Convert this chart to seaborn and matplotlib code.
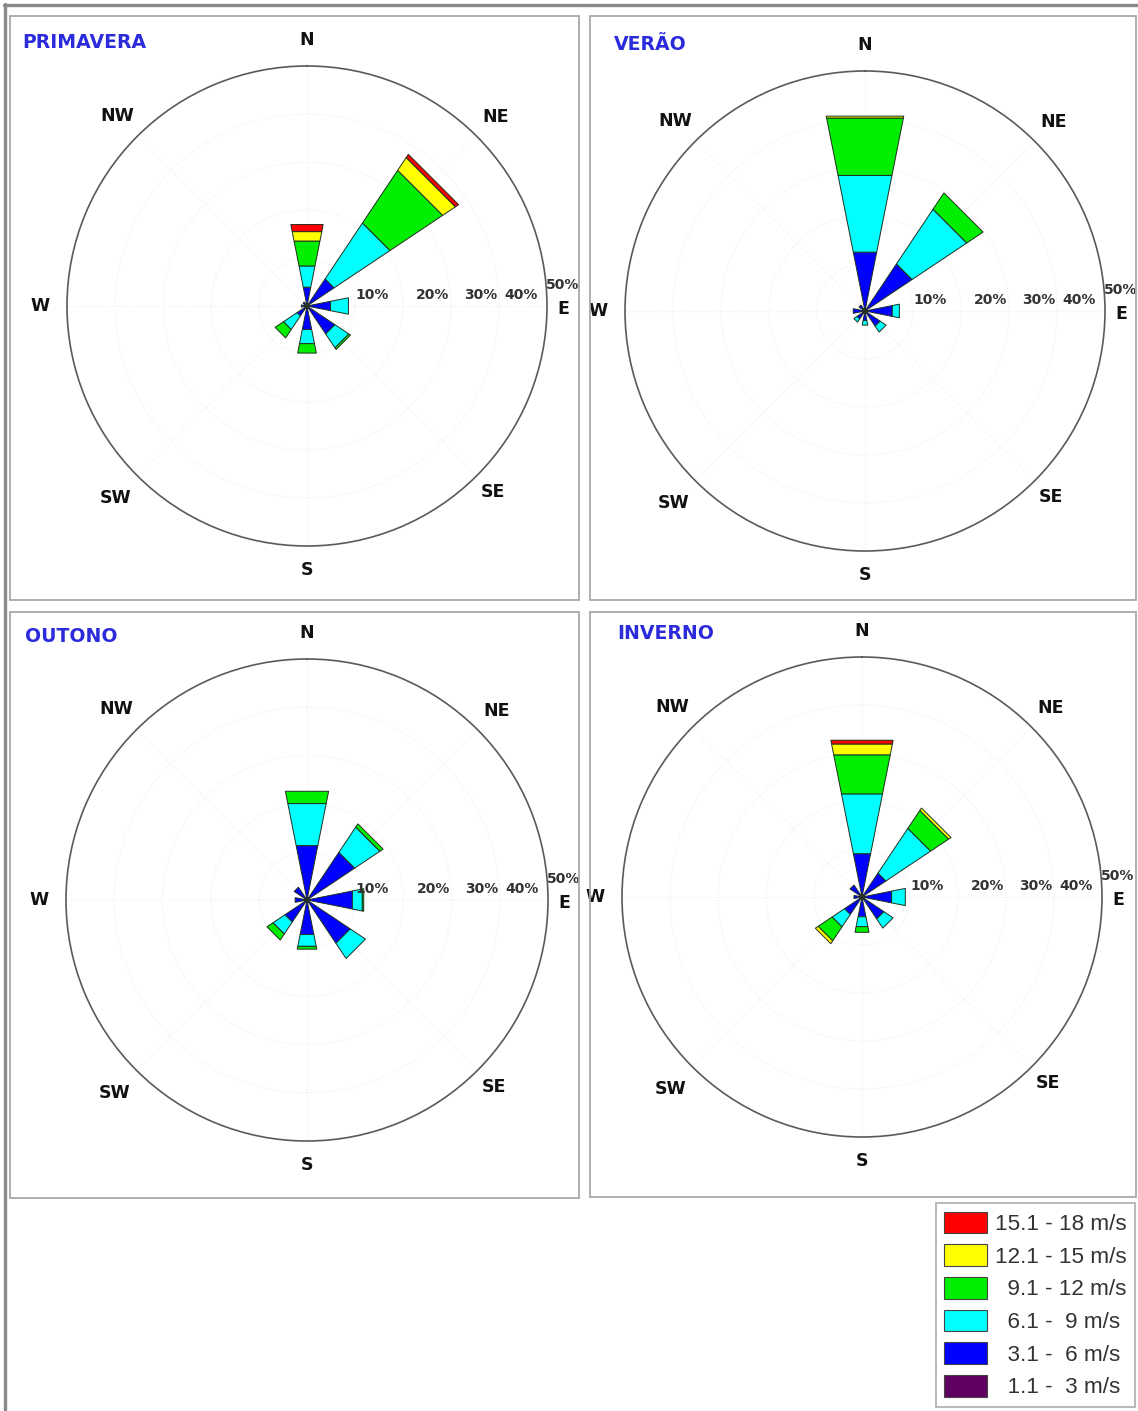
import numpy as np
import matplotlib
matplotlib.use("Agg")
import matplotlib.pyplot as plt
import seaborn as sns
from matplotlib.patches import Rectangle, Patch
from matplotlib.lines import Line2D

# direction sectors and speed classes
directions = ["N", "NE", "E", "SE", "S", "SW", "W", "NW"]
speed_classes = ["  1.1 -  3 m/s", "  3.1 -  6 m/s", "  6.1 -  9 m/s",
                 "  9.1 - 12 m/s", "12.1 - 15 m/s", "15.1 - 18 m/s"]
class_colors = ["#600060", "#0000ff", "#00ffff", "#00ee00", "#ffff00", "#ff0000"]

# frequency (%) per speed class (rows) and direction (columns)
primavera = [
    [0.6, 0.6, 0.6, 0.6, 0.6, 0.6, 0.6, 0.6],
    [3.4, 6.2, 4.4, 6.4, 4.4, 1.9, 0.6, 0.4],
    [4.5, 14.0, 3.8, 3.5, 3.0, 3.4, 0.0, 0.0],
    [5.3, 13.2, 0.0, 0.4, 2.0, 2.1, 0.0, 0.0],
    [2.0, 3.2, 0.0, 0.0, 0.0, 0.0, 0.0, 0.0],
    [1.5, 0.8, 0.0, 0.0, 0.0, 0.0, 0.0, 0.0],
]
verao = [
    [0.6, 0.6, 0.6, 0.6, 0.6, 0.6, 0.6, 0.6],
    [11.9, 11.2, 5.2, 3.2, 1.4, 1.4, 1.9, 0.9],
    [16.3, 13.7, 1.5, 1.5, 1.0, 0.8, 0.0, 0.0],
    [12.2, 4.1, 0.0, 0.0, 0.0, 0.0, 0.0, 0.0],
    [0.4, 0.0, 0.0, 0.0, 0.0, 0.0, 0.0, 0.0],
    [0.0, 0.0, 0.0, 0.0, 0.0, 0.0, 0.0, 0.0],
]
outono = [
    [0.6, 0.6, 0.6, 0.6, 0.6, 0.6, 0.6, 0.6],
    [10.9, 11.3, 9.0, 10.2, 6.7, 4.9, 1.9, 2.6],
    [8.9, 6.3, 2.1, 3.8, 2.5, 3.0, 0.0, 0.0],
    [2.6, 0.8, 0.3, 0.0, 0.6, 1.5, 0.0, 0.0],
    [0.0, 0.0, 0.0, 0.0, 0.0, 0.0, 0.0, 0.0],
    [0.0, 0.0, 0.0, 0.0, 0.0, 0.0, 0.0, 0.0],
]
inverno = [
    [0.6, 0.6, 0.6, 0.6, 0.6, 0.6, 0.6, 0.6],
    [8.6, 5.4, 5.7, 4.9, 3.6, 3.8, 1.1, 2.4],
    [12.7, 11.2, 2.9, 2.3, 2.1, 3.1, 0.0, 0.0],
    [8.3, 4.5, 0.0, 0.0, 1.2, 3.5, 0.0, 0.0],
    [2.3, 0.6, 0.0, 0.0, 0.0, 0.7, 0.0, 0.0],
    [0.8, 0.0, 0.0, 0.0, 0.0, 0.0, 0.0, 0.0],
]
season_names = ["PRIMAVERA", "VERÃO", "OUTONO", "INVERNO"]
ring_labels = ["10%", "20%", "30%", "40%", "50%"]

sns.set_theme(style="white")
plt.rcParams["font.family"] = ["DejaVu Sans"]

W, H = 1138, 1411
fig = plt.figure(figsize=(W / 100, H / 100), dpi=100)
fig.patch.set_facecolor("white")

# layout in pixels: panel box, circle centre, circle radius, title position
layout = [
    ((10, 16, 579, 600), (307, 306), 240, (22, 42)),
    ((590, 16, 1136, 600), (865, 311), 240, (614, 45)),
    ((10, 612, 579, 1198), (307, 900), 241, (25, 636)),
    ((590, 612, 1136, 1197), (862, 897), 240, (617, 634)),
]
seasons = [primavera, verao, outono, inverno]

# outer frame (top and left)
fig.add_artist(Line2D([4 / W, 1], [1 - 5 / H, 1 - 5 / H], transform=fig.transFigure,
                      color="#8a8a8a", lw=2.4))
fig.add_artist(Line2D([5 / W, 5 / W], [0, 1 - 4 / H], transform=fig.transFigure,
                      color="#8a8a8a", lw=2.4))

theta = np.deg2rad(np.arange(0, 360, 45))
half = np.deg2rad(22.5) / 2
label_r = {"N": 55.4, "NE": 55.6, "E": 53.3, "SE": 54.8, "S": 55.0,
           "SW": 56.5, "W": 55.6, "NW": 56.0}

for name, data, (box, (cx, cy), rad, (tx, ty)) in zip(season_names, seasons, layout):
    x0, y0, x1, y1 = box
    fig.add_artist(Rectangle((x0 / W, 1 - y1 / H), (x1 - x0) / W, (y1 - y0) / H,
                             transform=fig.transFigure, fill=False,
                             edgecolor="#a8a8a8", lw=1.3))
    fig.text(tx / W, 1 - ty / H, name, color="#2b2bdc", fontsize=13.6,
             fontweight="bold", ha="left", va="center")

    ax = fig.add_axes([(cx - rad) / W, 1 - (cy + rad) / H, 2 * rad / W, 2 * rad / H],
                      projection="polar")
    ax.set_facecolor("white")
    ax.set_theta_zero_location("N")
    ax.set_theta_direction(-1)
    ax.set_ylim(0, 50)
    ax.set_rgrids([10, 20, 30, 40], labels=[])
    ax.set_thetagrids(np.arange(0, 360, 45), labels=[])
    ax.grid(True, color="#eeeeee", lw=0.8, ls=":")
    ax.spines["polar"].set_color("#5a5a5a")
    ax.spines["polar"].set_linewidth(1.2)

    # stacked wedges with straight outer edges
    values = np.array(data)
    bottom = np.zeros(len(directions))
    for k in range(len(speed_classes)):
        for j, t in enumerate(theta):
            h = values[k, j]
            if h <= 0:
                continue
            r0, r1 = bottom[j], bottom[j] + h
            ax.fill([t - half, t + half, t + half, t - half],
                    [r0, r0, r1, r1], facecolor=class_colors[k],
                    edgecolor="#1f2f1f", linewidth=0.7, zorder=3)
        bottom += values[k]

    for d, t in zip(directions, theta):
        dy = -3 if d == "E" else 0
        ax.annotate(d, xy=(t, label_r[d]), xytext=(0, dy), textcoords="offset pixels",
                    ha="center", va="center", fontsize=12.5, fontweight="bold",
                    color="#111111", annotation_clip=False)

    ring_pos = [(13.6, 11), (26.2, 11), (36.2, 11), (44.6, 11), (53.3, 21)]
    for lab, (r, off) in zip(ring_labels, ring_pos):
        ax.annotate(lab, xy=(np.pi / 2, r), xytext=(0, off), textcoords="offset pixels",
                    ha="center", va="center", fontsize=10, fontweight="bold",
                    color="#333333", annotation_clip=False, zorder=5)

handles = [Patch(facecolor=c, edgecolor="#444444", lw=0.8) for c in class_colors]
leg = fig.legend(handles[::-1], speed_classes[::-1], loc="upper right",
                 bbox_to_anchor=(1135 / W, 1 - 1203 / H), bbox_transform=fig.transFigure,
                 frameon=True, fancybox=False, edgecolor="#a0a0a0",
                 prop={"family": "Liberation Sans", "size": 16.2},
                 handlelength=1.9, handleheight=1.1, labelspacing=0.41,
                 handletextpad=0.35, borderpad=0.38, borderaxespad=0)
leg.get_frame().set_linewidth(1.3)
for t in leg.get_texts():
    t.set_color("#333333")

fig.savefig("out.png", dpi=100, facecolor="white")
